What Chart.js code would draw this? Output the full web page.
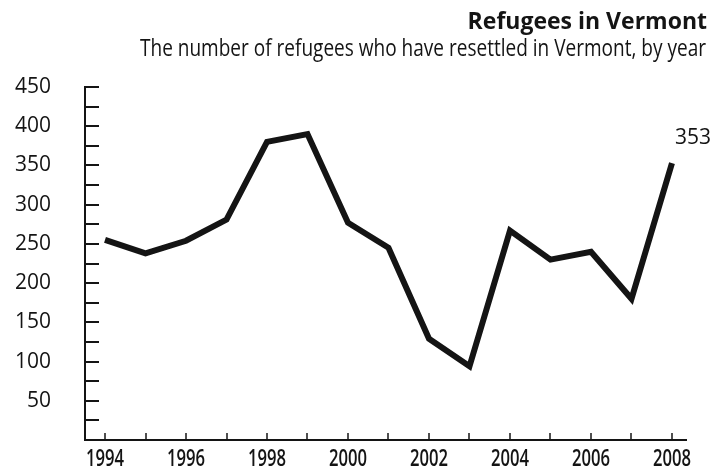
<!DOCTYPE html>
<html>
<head>
<meta charset="utf-8">
<script src="https://cdn.jsdelivr.net/npm/chart.js@4.4.1/dist/chart.umd.min.js"></script>
<style>
  html, body { margin: 0; padding: 0; background: #fff; }
  #wrap { width: 712px; height: 472px; position: relative; }
</style>
</head>
<body>
<div id="wrap"><canvas id="c" width="712" height="472"></canvas></div>
<script>
const TITLE = "Refugees in Vermont";
const SUBTITLE = "The number of refugees who have resettled in Vermont, by year";
const years = [1994, 1995, 1996, 1997, 1998, 1999, 2000, 2001, 2002, 2003, 2004, 2005, 2006, 2007, 2008];
const refugees = [255, 238, 254, 281, 380, 390, 277, 245, 129, 94, 267, 230, 240, 180, 353];
const yTickLabels = [50, 100, 150, 200, 250, 300, 350, 400, 450];
const xTickLabels = [1994, 1996, 1998, 2000, 2002, 2004, 2006, 2008];
const endLabel = "353";

const INK = '#141414';

// draw text compressed horizontally to a target width (emulates a condensed face)
function condensedText(ctx, text, x, y, targetWidth, align) {
  const w = ctx.measureText(text).width;
  const s = Math.min(1, targetWidth / w);
  ctx.save();
  ctx.translate(x, y);
  ctx.scale(s, 1);
  ctx.textAlign = align;
  ctx.fillText(text, 0, 0);
  ctx.restore();
}

const decorPlugin = {
  id: 'decor',
  afterDraw(chart) {
    const ctx = chart.ctx;
    const xs = chart.scales.x, ys = chart.scales.y;
    ctx.save();
    ctx.strokeStyle = INK;
    ctx.lineWidth = 2;
    // inward y ticks every 25
    ys.ticks.forEach(t => {
      if (t.value <= 0) return;
      const py = Math.round(ys.getPixelForValue(t.value));
      ctx.beginPath();
      ctx.moveTo(xs.left, py);
      ctx.lineTo(xs.left + 14, py);
      ctx.stroke();
    });
    // inward x ticks every year + condensed year labels
    ctx.lineWidth = 1.5;
    ctx.fillStyle = INK;
    ctx.textBaseline = 'alphabetic';
    ctx.font = '600 24px "Open Sans"';
    xs.ticks.forEach(t => {
      const px = Math.round(xs.getPixelForValue(t.value));
      ctx.beginPath();
      ctx.moveTo(px, ys.bottom);
      ctx.lineTo(px, ys.bottom - 7);
      ctx.stroke();
      if (xTickLabels.includes(t.value)) {
        condensedText(ctx, String(t.value), px, ys.bottom + 26, 38, 'center');
      }
    });
    // title & subtitle
    ctx.textAlign = 'right';
    ctx.font = 'bold 23px "Open Sans"';
    ctx.fillText(TITLE, 707, 29);
    ctx.font = '24px "Open Sans"';
    condensedText(ctx, SUBTITLE, 706, 56, 566, 'right');
    // end label
    const meta = chart.getDatasetMeta(0);
    const last = meta.data[meta.data.length - 1];
    ctx.textAlign = 'left';
    ctx.font = '21px "Open Sans"';
    ctx.fillText(endLabel, last.x + 3, last.y - 19);
    ctx.restore();
  }
};

new Chart(document.getElementById('c'), {
  type: 'line',
  data: {
    datasets: [{
      data: years.map((y, i) => ({ x: y, y: refugees[i] })),
      borderColor: INK,
      borderWidth: 6,
      pointRadius: 0,
      tension: 0,
      fill: false,
      borderJoinStyle: 'miter',
      borderCapStyle: 'butt'
    }]
  },
  options: {
    responsive: false,
    animation: false,
    layout: { padding: { top: 87, right: 26, bottom: 0, left: 0 } },
    plugins: { legend: { display: false }, tooltip: { enabled: false }, title: { display: false } },
    scales: {
      x: {
        type: 'linear',
        min: 1993.506,
        max: 2008.346,
        afterFit(s) { s.height = 32; s.paddingLeft = 0; s.paddingRight = 0; },
        grid: { display: false, drawTicks: false },
        border: { display: true, color: INK, width: 2 },
        ticks: {
          stepSize: 1,
          includeBounds: false,
          autoSkip: false,
          maxRotation: 0,
          color: INK,
          callback: () => ''
        }
      },
      y: {
        min: 0,
        max: 450,
        afterFit(s) { s.width = 85; s.paddingTop = 0; s.paddingBottom = 0; },
        grid: { display: false, drawTicks: false },
        border: { display: true, color: INK, width: 2 },
        ticks: {
          stepSize: 25,
          autoSkip: false,
          padding: 34,
          color: INK,
          font: { family: '"Open Sans"', size: 21 },
          callback: v => yTickLabels.includes(v) ? String(v) : ''
        }
      }
    }
  },
  plugins: [decorPlugin]
});
</script>
</body>
</html>
